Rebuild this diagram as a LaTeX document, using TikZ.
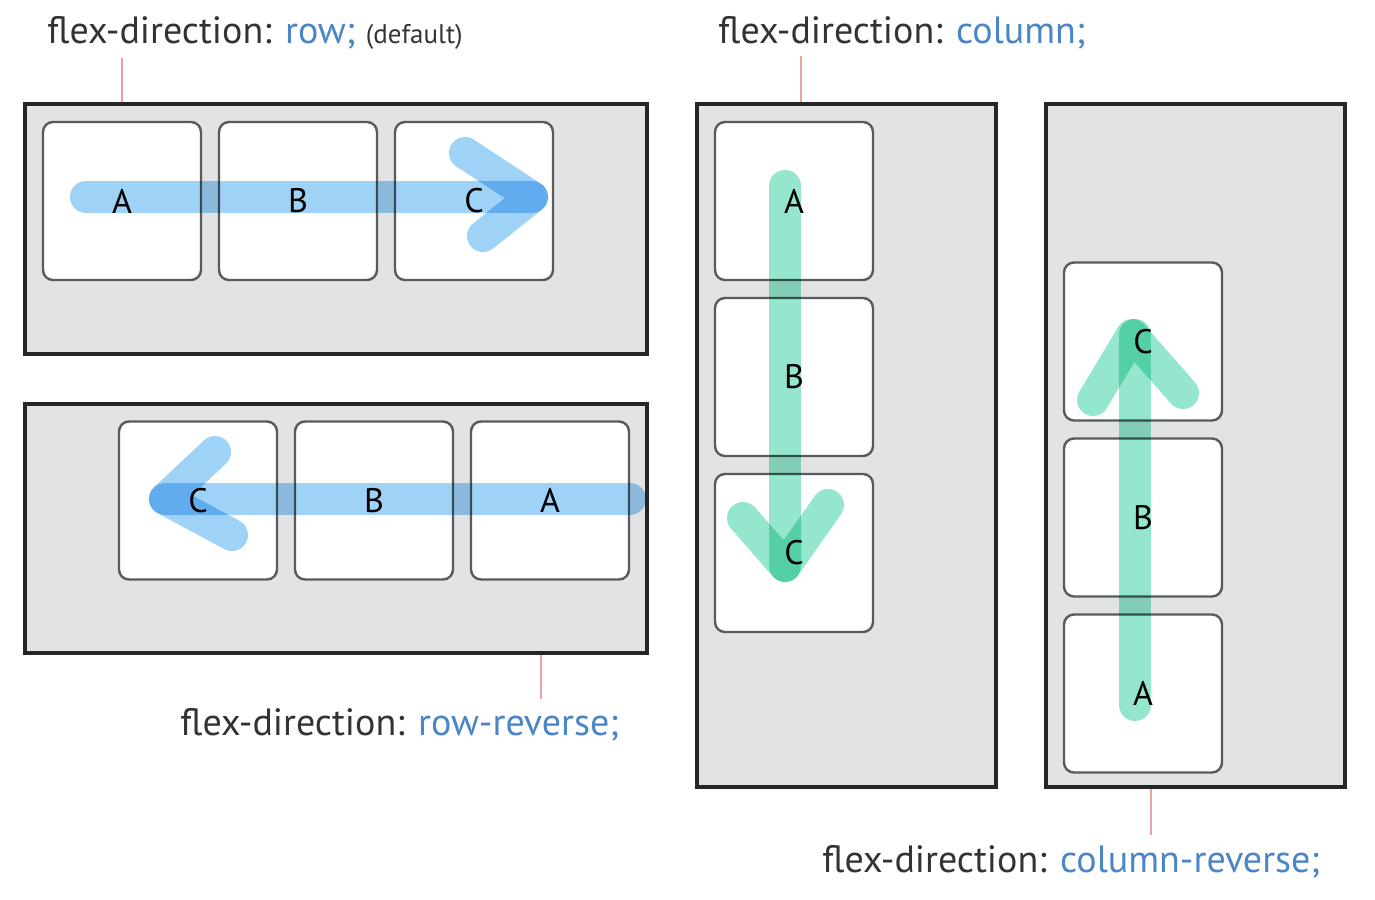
\documentclass[tikz,border=0pt]{standalone}
\usepackage{fontspec}
\setmainfont{PT Sans}
\usepackage[HTML]{xcolor}
\usepackage{tikz}
\usetikzlibrary{positioning}

\definecolor{boxgray}{HTML}{E2E3E5}
\definecolor{itemline}{HTML}{5A5A5A}
\definecolor{keyblue}{HTML}{4A86C5}
\definecolor{rowblue}{HTML}{9ED2F7}
\definecolor{colgreen}{HTML}{94E6CE}
\definecolor{leadred}{HTML}{E9A3A3}

\tikzset{
  panel/.style={draw=black!85,line width=1.6pt,fill=boxgray,minimum width=#1},
  item/.style={draw=itemline,line width=1.2pt,fill=white,rounded corners=5pt,
    minimum width=79pt,minimum height=79pt,inner sep=0pt,font=\fontsize{17}{17}\selectfont},
  rowarrow/.style={line width=16pt,line cap=round,line join=round,draw=rowblue,blend mode=multiply},
  colarrow/.style={line width=16pt,line cap=round,line join=round,draw=colgreen,blend mode=multiply},
  leader/.style={draw=leadred,line width=0.6pt},
  keylabel/.style={anchor=base west,inner sep=0pt,text=black!80,font=\fontsize{19}{20}\selectfont}
}

\begin{document}
\begin{tikzpicture}[x=0.5pt,y=-0.5pt]
\useasboundingbox (0,0) rectangle (1375,899);

% containers
\node[panel=311pt,minimum height=125pt] (row) at (336,229) {};
\node[panel=311pt,minimum height=124.5pt] (rowrev) at (336,528.5) {};
\node[panel=149.5pt,minimum height=341.5pt] (col) at (846.5,445.5) {};
\node[panel=149.5pt,minimum height=341.5pt] (colrev) at (1195.5,445.5) {};

% items: row
\node[item] (rA) at (122,201) {A};
\node[item,right=7.8pt of rA] (rB) {B};
\node[item,right=7.8pt of rB] (rC) {C};
% items: row-reverse
\node[item] (rrC) at (198,500.5) {C};
\node[item,right=7.8pt of rrC] (rrB) {B};
\node[item,right=7.8pt of rrB] (rrA) {A};
% items: column
\node[item] (cA) at (794,201) {A};
\node[item,below=7.8pt of cA] (cB) {B};
\node[item,below=7.8pt of cB] (cC) {C};
% items: column-reverse
\node[item] (crC) at (1143,341.5) {C};
\node[item,below=7.8pt of crC] (crB) {B};
\node[item,below=7.8pt of crB] (crA) {A};

% direction arrows
\draw[rowarrow] (86,197) -- (532,197);
\draw[rowarrow] (465,153) -- (532,197) -- (483,236);
\draw[rowarrow] (630,499) -- (165,499);
\draw[rowarrow] (215,452) -- (165,499) -- (232,535);
\draw[colarrow] (785,186) -- (785,566);
\draw[colarrow] (743,518) -- (785,566) -- (828,505);
\draw[colarrow] (1135,705) -- (1135,335);
\draw[colarrow] (1093,400) -- (1132,335) -- (1183,393);

% labels
\node[keylabel] (lrow) at (47,44) {flex-direction: \textcolor{keyblue}{row;} {\fontsize{13.5}{14}\selectfont (default)}};
\node[keylabel] (lcol) at (718,44) {flex-direction: \textcolor{keyblue}{column;}};
\node[keylabel] (lrowrev) at (180,735) {flex-direction: \textcolor{keyblue}{row-reverse;}};
\node[keylabel] (lcolrev) at (822,872) {flex-direction: \textcolor{keyblue}{column-reverse;}};

\draw[leader] (rA |- row.north) -- ++(0,-44);
\draw[leader] ([xshift=3.5pt]cA |- col.north) -- ++(0,-46);
\draw[leader] ([xshift=-4.5pt]rrA |- rowrev.south) -- ++(0,44);
\draw[leader] ([xshift=4pt]crA |- colrev.south) -- ++(0,46);
\end{tikzpicture}
\end{document}
